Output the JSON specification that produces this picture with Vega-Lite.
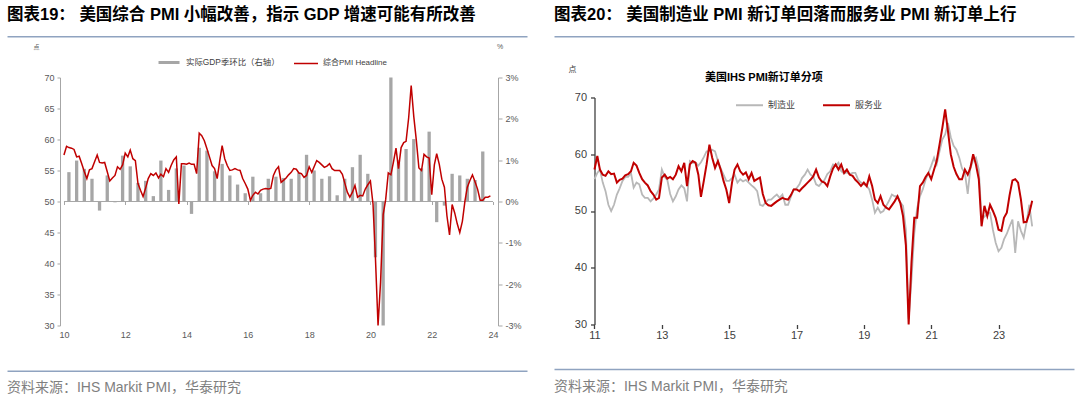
{
  "$schema": "https://vega.github.io/schema/vega-lite/v6.json",
  "background": "white",
  "padding": {"left": 7, "top": 7.2, "right": 5, "bottom": 0},
  "spacing": 27,
  "resolve": {"scale": {"color": "independent", "fill": "independent", "stroke": "independent"}, "legend": {"color": "independent", "fill": "independent", "stroke": "independent"}},
  "config": {
    "view": {"stroke": null},
    "font": "Liberation Sans, Noto Sans CJK SC",
    "axis": {"grid": false, "labelFont": "Liberation Sans, Noto Sans CJK SC", "titleFont": "Liberation Sans, Noto Sans CJK SC"},
    "legend": {"labelFont": "Liberation Sans, Noto Sans CJK SC", "titleFont": "Liberation Sans, Noto Sans CJK SC"},
    "title": {"font": "Liberation Sans, Noto Sans CJK SC"}
  },
  "datasets": {
    "pmi": [
      {"d":"2010-01","v":57.5},{"d":"2010-02","v":58.9},{"d":"2010-03","v":58.7},{"d":"2010-04","v":58.6},{"d":"2010-05","v":58.4},{"d":"2010-06","v":57.2},{"d":"2010-07","v":57.3},{"d":"2010-08","v":56.1},{"d":"2010-09","v":54.8},{"d":"2010-10","v":53.7},{"d":"2010-11","v":55.1},{"d":"2010-12","v":55.3},
      {"d":"2011-01","v":56.4},{"d":"2011-02","v":57.5},{"d":"2011-03","v":56.3},{"d":"2011-04","v":56.2},{"d":"2011-05","v":56.3},{"d":"2011-06","v":54.8},{"d":"2011-07","v":53.3},{"d":"2011-08","v":53.8},{"d":"2011-09","v":54.2},{"d":"2011-10","v":55.6},{"d":"2011-11","v":55.2},{"d":"2011-12","v":55.9},
      {"d":"2012-01","v":57.8},{"d":"2012-02","v":57.2},{"d":"2012-03","v":58.3},{"d":"2012-04","v":56.9},{"d":"2012-05","v":56.6},{"d":"2012-06","v":52.9},{"d":"2012-07","v":51.8},{"d":"2012-08","v":50.8},{"d":"2012-09","v":52.2},{"d":"2012-10","v":53.7},{"d":"2012-11","v":54.5},{"d":"2012-12","v":54.2},
      {"d":"2013-01","v":54.6},{"d":"2013-02","v":53.8},{"d":"2013-03","v":54.4},{"d":"2013-04","v":54.0},{"d":"2013-05","v":55.3},{"d":"2013-06","v":54.7},{"d":"2013-07","v":55.8},{"d":"2013-08","v":56.7},{"d":"2013-09","v":57.2},{"d":"2013-10","v":49.6},{"d":"2013-11","v":56.1},{"d":"2013-12","v":56.1},
      {"d":"2014-01","v":56.0},{"d":"2014-02","v":56.2},{"d":"2014-03","v":56.0},{"d":"2014-04","v":56.0},{"d":"2014-05","v":54.5},{"d":"2014-06","v":61.0},{"d":"2014-07","v":60.6},{"d":"2014-08","v":59.8},{"d":"2014-09","v":58.5},{"d":"2014-10","v":57.2},{"d":"2014-11","v":55.8},{"d":"2014-12","v":55.3},
      {"d":"2015-01","v":53.7},{"d":"2015-02","v":56.6},{"d":"2015-03","v":59.0},{"d":"2015-04","v":56.9},{"d":"2015-05","v":55.8},{"d":"2015-06","v":55.0},{"d":"2015-07","v":55.1},{"d":"2015-08","v":55.3},{"d":"2015-09","v":55.1},{"d":"2015-10","v":55.0},{"d":"2015-11","v":53.7},{"d":"2015-12","v":52.9},
      {"d":"2016-01","v":52.0},{"d":"2016-02","v":50.2},{"d":"2016-03","v":51.0},{"d":"2016-04","v":51.5},{"d":"2016-05","v":51.2},{"d":"2016-06","v":51.8},{"d":"2016-07","v":52.0},{"d":"2016-08","v":52.1},{"d":"2016-09","v":52.0},{"d":"2016-10","v":52.1},{"d":"2016-11","v":54.2},{"d":"2016-12","v":55.1},
      {"d":"2017-01","v":55.6},{"d":"2017-02","v":53.1},{"d":"2017-03","v":53.4},{"d":"2017-04","v":53.8},{"d":"2017-05","v":54.3},{"d":"2017-06","v":54.7},{"d":"2017-07","v":55.3},{"d":"2017-08","v":55.2},{"d":"2017-09","v":54.6},{"d":"2017-10","v":54.5},{"d":"2017-11","v":53.9},{"d":"2017-12","v":54.2},
      {"d":"2018-01","v":55.6},{"d":"2018-02","v":54.7},{"d":"2018-03","v":55.6},{"d":"2018-04","v":56.6},{"d":"2018-05","v":56.3},{"d":"2018-06","v":55.9},{"d":"2018-07","v":55.5},{"d":"2018-08","v":55.7},{"d":"2018-09","v":56.1},{"d":"2018-10","v":55.3},{"d":"2018-11","v":55.0},{"d":"2018-12","v":55.0},
      {"d":"2019-01","v":55.0},{"d":"2019-02","v":54.4},{"d":"2019-03","v":53.0},{"d":"2019-04","v":51.5},{"d":"2019-05","v":50.7},{"d":"2019-06","v":51.5},{"d":"2019-07","v":52.6},{"d":"2019-08","v":50.7},{"d":"2019-09","v":51.0},{"d":"2019-10","v":50.9},{"d":"2019-11","v":52.0},{"d":"2019-12","v":52.7},
      {"d":"2020-01","v":53.3},{"d":"2020-02","v":49.6},{"d":"2020-03","v":40.9},{"d":"2020-04","v":30.0},{"d":"2020-05","v":37.0},{"d":"2020-06","v":47.9},{"d":"2020-07","v":50.3},{"d":"2020-08","v":54.6},{"d":"2020-09","v":54.3},{"d":"2020-10","v":56.3},{"d":"2020-11","v":58.6},{"d":"2020-12","v":55.3},
      {"d":"2021-01","v":58.7},{"d":"2021-02","v":59.5},{"d":"2021-03","v":59.7},{"d":"2021-04","v":63.5},{"d":"2021-05","v":68.7},{"d":"2021-06","v":63.7},{"d":"2021-07","v":59.9},{"d":"2021-08","v":55.4},{"d":"2021-09","v":55.0},{"d":"2021-10","v":57.6},{"d":"2021-11","v":57.2},{"d":"2021-12","v":57.0},
      {"d":"2022-01","v":51.1},{"d":"2022-02","v":55.9},{"d":"2022-03","v":57.7},{"d":"2022-04","v":56.0},{"d":"2022-05","v":53.6},{"d":"2022-06","v":52.3},{"d":"2022-07","v":47.7},{"d":"2022-08","v":44.6},{"d":"2022-09","v":49.5},{"d":"2022-10","v":48.2},{"d":"2022-11","v":46.4},{"d":"2022-12","v":45.0},
      {"d":"2023-01","v":46.8},{"d":"2023-02","v":50.1},{"d":"2023-03","v":52.3},{"d":"2023-04","v":53.4},{"d":"2023-05","v":54.3},{"d":"2023-06","v":53.2},{"d":"2023-07","v":52.0},{"d":"2023-08","v":50.2},{"d":"2023-09","v":50.2},{"d":"2023-10","v":50.7},{"d":"2023-11","v":50.7},{"d":"2023-12","v":50.9}
    ],
    "gdp": [
      {"d":"2010-03","v":0.71},{"d":"2010-06","v":0.99},{"d":"2010-09","v":0.79},{"d":"2010-12","v":0.55},
      {"d":"2011-03","v":-0.22},{"d":"2011-06","v":0.63},{"d":"2011-09","v":-0.02},{"d":"2011-12","v":1.11},
      {"d":"2012-03","v":0.85},{"d":"2012-06","v":0.45},{"d":"2012-09","v":0.50},{"d":"2012-12","v":0.13},
      {"d":"2013-03","v":0.99},{"d":"2013-06","v":0.28},{"d":"2013-09","v":0.80},{"d":"2013-12","v":0.87},
      {"d":"2014-03","v":-0.30},{"d":"2014-06","v":1.30},{"d":"2014-09","v":1.23},{"d":"2014-12","v":0.73},
      {"d":"2015-03","v":0.91},{"d":"2015-06","v":0.63},{"d":"2015-09","v":0.41},{"d":"2015-12","v":0.20},
      {"d":"2016-03","v":0.60},{"d":"2016-06","v":0.20},{"d":"2016-09","v":0.55},{"d":"2016-12","v":0.60},
      {"d":"2017-03","v":0.57},{"d":"2017-06","v":0.55},{"d":"2017-09","v":0.70},{"d":"2017-12","v":1.13},
      {"d":"2018-03","v":0.75},{"d":"2018-06","v":0.55},{"d":"2018-09","v":0.61},{"d":"2018-12","v":0.15},
      {"d":"2019-03","v":0.55},{"d":"2019-06","v":0.83},{"d":"2019-09","v":1.13},{"d":"2019-12","v":0.67},
      {"d":"2020-03","v":-1.35},{"d":"2020-06","v":-3.0},{"d":"2020-09","v":3.0},{"d":"2020-12","v":1.0},
      {"d":"2021-03","v":1.27},{"d":"2021-06","v":1.51},{"d":"2021-09","v":0.80},{"d":"2021-12","v":1.69},
      {"d":"2022-03","v":-0.50},{"d":"2022-06","v":-0.10},{"d":"2022-09","v":0.67},{"d":"2022-12","v":0.63},
      {"d":"2023-03","v":0.55},{"d":"2023-06","v":0.52},{"d":"2023-09","v":1.21}
    ],
    "no": [
      {"d":"2011-01","m":55.6,"s":57.3},{"d":"2011-02","m":56.7,"s":59.7},{"d":"2011-03","m":57.3,"s":57.3},{"d":"2011-04","m":55.0,"s":56.4},{"d":"2011-05","m":53.5,"s":56.2},{"d":"2011-06","m":51.1,"s":57.0},{"d":"2011-07","m":50.0,"s":56.5},{"d":"2011-08","m":51.1,"s":56.6},{"d":"2011-09","m":52.9,"s":55.0},{"d":"2011-10","m":54.0,"s":55.5},{"d":"2011-11","m":55.3,"s":55.7},{"d":"2011-12","m":56.0,"s":56.3},
      {"d":"2012-01","m":56.0,"s":56.5},{"d":"2012-02","m":56.7,"s":57.0},{"d":"2012-03","m":54.1,"s":58.5},{"d":"2012-04","m":55.0,"s":58.0},{"d":"2012-05","m":54.7,"s":56.7},{"d":"2012-06","m":52.9,"s":55.6},{"d":"2012-07","m":52.3,"s":55.0},{"d":"2012-08","m":52.3,"s":54.5},{"d":"2012-09","m":51.7,"s":53.5},{"d":"2012-10","m":52.2,"s":52.9},{"d":"2012-11","m":52.9,"s":52.0},{"d":"2012-12","m":53.8,"s":52.3},
      {"d":"2013-01","m":57.3,"s":55.9},{"d":"2013-02","m":56.0,"s":56.4},{"d":"2013-03","m":55.5,"s":55.7},{"d":"2013-04","m":53.0,"s":56.0},{"d":"2013-05","m":51.7,"s":55.6},{"d":"2013-06","m":52.6,"s":56.4},{"d":"2013-07","m":53.8,"s":57.9},{"d":"2013-08","m":54.5,"s":57.0},{"d":"2013-09","m":54.0,"s":58.5},{"d":"2013-10","m":51.7,"s":54.4},{"d":"2013-11","m":58.8,"s":58.2},{"d":"2013-12","m":58.5,"s":58.8},
      {"d":"2014-01","m":58.5,"s":58.5},{"d":"2014-02","m":58.0,"s":56.4},{"d":"2014-03","m":58.6,"s":52.5},{"d":"2014-04","m":59.5,"s":55.3},{"d":"2014-05","m":60.5,"s":58.2},{"d":"2014-06","m":60.5,"s":61.7},{"d":"2014-07","m":60.8,"s":59.4},{"d":"2014-08","m":60.5,"s":57.6},{"d":"2014-09","m":58.8,"s":58.8},{"d":"2014-10","m":57.5,"s":57.3},{"d":"2014-11","m":56.4,"s":55.3},{"d":"2014-12","m":55.3,"s":53.8},
      {"d":"2015-01","m":55.3,"s":51.4},{"d":"2015-02","m":55.8,"s":55.0},{"d":"2015-03","m":56.4,"s":57.3},{"d":"2015-04","m":55.0,"s":58.2},{"d":"2015-05","m":55.6,"s":57.0},{"d":"2015-06","m":55.2,"s":56.4},{"d":"2015-07","m":55.5,"s":56.8},{"d":"2015-08","m":55.0,"s":55.6},{"d":"2015-09","m":54.5,"s":56.7},{"d":"2015-10","m":54.1,"s":55.3},{"d":"2015-11","m":53.5,"s":55.6},{"d":"2015-12","m":51.1,"s":55.9},
      {"d":"2016-01","m":50.9,"s":53.0},{"d":"2016-02","m":51.5,"s":51.4},{"d":"2016-03","m":52.0,"s":51.0},{"d":"2016-04","m":52.0,"s":50.9},{"d":"2016-05","m":52.5,"s":51.3},{"d":"2016-06","m":52.9,"s":51.7},{"d":"2016-07","m":52.3,"s":52.0},{"d":"2016-08","m":52.9,"s":52.3},{"d":"2016-09","m":51.1,"s":52.1},{"d":"2016-10","m":51.1,"s":52.0},{"d":"2016-11","m":52.5,"s":52.8},{"d":"2016-12","m":53.8,"s":53.8},
      {"d":"2017-01","m":54.0,"s":53.8},{"d":"2017-02","m":54.7,"s":53.5},{"d":"2017-03","m":55.8,"s":54.0},{"d":"2017-04","m":56.4,"s":54.5},{"d":"2017-05","m":57.3,"s":55.0},{"d":"2017-06","m":56.4,"s":55.5},{"d":"2017-07","m":56.1,"s":56.1},{"d":"2017-08","m":54.7,"s":57.3},{"d":"2017-09","m":54.4,"s":55.9},{"d":"2017-10","m":55.0,"s":55.2},{"d":"2017-11","m":55.5,"s":55.0},{"d":"2017-12","m":56.5,"s":54.4},
      {"d":"2018-01","m":57.0,"s":56.1},{"d":"2018-02","m":58.2,"s":57.5},{"d":"2018-03","m":58.0,"s":58.2},{"d":"2018-04","m":58.5,"s":57.3},{"d":"2018-05","m":57.0,"s":58.2},{"d":"2018-06","m":56.6,"s":56.7},{"d":"2018-07","m":56.8,"s":57.3},{"d":"2018-08","m":56.5,"s":56.4},{"d":"2018-09","m":56.7,"s":56.2},{"d":"2018-10","m":56.7,"s":55.5},{"d":"2018-11","m":55.5,"s":55.0},{"d":"2018-12","m":55.0,"s":54.4},
      {"d":"2019-01","m":54.7,"s":55.0},{"d":"2019-02","m":54.4,"s":54.4},{"d":"2019-03","m":53.8,"s":56.1},{"d":"2019-04","m":52.0,"s":54.4},{"d":"2019-05","m":49.7,"s":52.0},{"d":"2019-06","m":50.6,"s":51.4},{"d":"2019-07","m":49.7,"s":52.6},{"d":"2019-08","m":50.0,"s":51.1},{"d":"2019-09","m":50.9,"s":50.6},{"d":"2019-10","m":51.8,"s":50.3},{"d":"2019-11","m":52.9,"s":51.0},{"d":"2019-12","m":52.6,"s":51.7},
      {"d":"2020-01","m":52.6,"s":52.6},{"d":"2020-02","m":51.5,"s":51.4},{"d":"2020-03","m":50.9,"s":49.1},{"d":"2020-04","m":46.7,"s":44.0},{"d":"2020-05","m":31.0,"s":30.0},{"d":"2020-06","m":38.0,"s":41.0},{"d":"2020-07","m":46.0,"s":48.8},{"d":"2020-08","m":50.5,"s":48.8},{"d":"2020-09","m":52.6,"s":54.4},{"d":"2020-10","m":53.8,"s":55.0},{"d":"2020-11","m":55.5,"s":56.0},{"d":"2020-12","m":56.7,"s":56.7},
      {"d":"2021-01","m":58.0,"s":55.6},{"d":"2021-02","m":59.4,"s":57.3},{"d":"2021-03","m":58.2,"s":58.8},{"d":"2021-04","m":60.5,"s":61.7},{"d":"2021-05","m":62.6,"s":64.6},{"d":"2021-06","m":63.5,"s":67.9},{"d":"2021-07","m":65.5,"s":64.1},{"d":"2021-08","m":63.0,"s":60.0},{"d":"2021-09","m":61.5,"s":57.8},{"d":"2021-10","m":60.8,"s":56.5},{"d":"2021-11","m":59.4,"s":55.6},{"d":"2021-12","m":57.5,"s":55.6},
      {"d":"2022-01","m":56.7,"s":57.3},{"d":"2022-02","m":53.0,"s":56.4},{"d":"2022-03","m":57.5,"s":57.6},{"d":"2022-04","m":59.0,"s":60.0},{"d":"2022-05","m":59.4,"s":58.2},{"d":"2022-06","m":57.3,"s":55.6},{"d":"2022-07","m":48.5,"s":47.3},{"d":"2022-08","m":49.0,"s":50.9},{"d":"2022-09","m":49.5,"s":49.1},{"d":"2022-10","m":49.7,"s":51.1},{"d":"2022-11","m":46.7,"s":50.0},{"d":"2022-12","m":44.4,"s":48.8},
      {"d":"2023-01","m":42.9,"s":46.7},{"d":"2023-02","m":43.5,"s":46.5},{"d":"2023-03","m":45.0,"s":48.8},{"d":"2023-04","m":46.0,"s":49.7},{"d":"2023-05","m":47.3,"s":52.8},{"d":"2023-06","m":48.5,"s":55.4},{"d":"2023-07","m":42.6,"s":55.6},{"d":"2023-08","m":48.2,"s":55.0},{"d":"2023-09","m":46.5,"s":52.0},{"d":"2023-10","m":45.3,"s":48.0},{"d":"2023-11","m":48.0,"s":48.1},{"d":"2023-12","m":51.1,"s":49.6},
      {"d":"2024-01","m":47.3,"s":51.8}
    ]
  },
  "hconcat": [
    {
      "spacing": 30.5,
      "resolve": {"scale": {"color": "independent", "fill": "independent", "stroke": "independent"}, "legend": {"color": "independent", "fill": "independent", "stroke": "independent"}},
      "vconcat": [
        {
          "spacing": 6.3,
          "resolve": {"scale": {"color": "independent", "fill": "independent", "stroke": "independent"}, "legend": {"color": "independent", "fill": "independent", "stroke": "independent"}},
          "vconcat": [
            {
              "width": 520, "height": 2,
              "data": {"values": [{"t": 0}, {"t": 1}]},
              "mark": {"type": "rule", "opacity": 0},
              "encoding": {"x": {"field": "t", "type": "quantitative", "axis": {"orient": "bottom", "domainColor": "#8FA3C0", "domainWidth": 1.5, "ticks": false, "labels": false, "title": null, "grid": false}}},
              "title": {"text": "图表19： 美国综合 PMI 小幅改善，指示 GDP 增速可能有所改善", "anchor": "start", "frame": "group", "fontSize": 16.5, "fontWeight": "bold", "color": "#000000", "offset": -2.6, "baseline": "alphabetic"}
            },
            {
              "width": 491, "height": 248,
              "layer": [
                {
                  "data": {"values": [{}]},
                  "mark": {"type": "rule", "color": "#A6A6A6", "strokeWidth": 1},
                  "encoding": {
                    "x": {"datum": {"year": 2010, "month": 1, "date": 1}, "type": "temporal"},
                    "x2": {"datum": {"year": 2024, "month": 1, "date": 1}},
                    "y": {"datum": 50, "type": "quantitative", "scale": {"domain": [30, 70], "nice": false, "zero": false}, "axis": null}
                  }
                },
                {
                  "data": {"name": "gdp"},
                  "mark": {"type": "bar", "size": 3.3},
                  "encoding": {
                    "x": {"field": "d", "type": "temporal",
                      "scale": {"domain": [{"year": 2008, "month": 4, "date": 22}, {"year": 2024, "month": 1, "date": 1}]},
                      "axis": {"orient": "bottom", "offset": -124, "domain": false, "values": [{"year": 2010, "month": 1, "date": 1}, {"year": 2012, "month": 1, "date": 1}, {"year": 2014, "month": 1, "date": 1}, {"year": 2016, "month": 1, "date": 1}, {"year": 2018, "month": 1, "date": 1}, {"year": 2020, "month": 1, "date": 1}, {"year": 2022, "month": 1, "date": 1}, {"year": 2024, "month": 1, "date": 1}],
                        "format": "%y", "tickSize": 3, "tickColor": "#A6A6A6", "labelPadding": 126, "labelFontSize": 9, "labelColor": "#595959", "labelFlush": false, "labelOverlap": false, "title": null}},
                    "y": {"field": "v", "type": "quantitative", "scale": {"domain": [-3, 3], "nice": false},
                      "axis": {"orient": "right", "values": [-3, -2, -1, 0, 1, 2, 3], "labelExpr": "datum.value + '%'", "tickSize": 4, "labelPadding": 3, "domainColor": "#A6A6A6", "tickColor": "#A6A6A6", "labelFontSize": 9, "labelColor": "#595959", "title": "%", "titleAngle": 0, "titleX": -1.5, "titleY": -28.7, "titleAlign": "left", "titleBaseline": "alphabetic", "titleFontSize": 7, "titleFontWeight": "normal", "titleColor": "#595959"}},
                    "fill": {"datum": "实际GDP季环比（右轴）", "type": "nominal", "scale": {"range": ["#A6A6A6"]},
                      "legend": {"orient": "none", "legendX": 150, "legendY": -27, "title": null, "symbolType": "stroke", "symbolSize": 441, "symbolStrokeWidth": 3, "symbolStrokeColor": "#A6A6A6", "labelFontSize": 8.4, "labelColor": "#404040", "labelOffset": 5, "padding": 0}}
                  }
                },
                {
                  "data": {"name": "pmi"},
                  "mark": {"type": "line", "strokeWidth": 1.5},
                  "encoding": {
                    "x": {"field": "d", "type": "temporal"},
                    "y": {"field": "v", "type": "quantitative", "scale": {"domain": [30, 70], "nice": false, "zero": false},
                      "axis": {"orient": "left", "offset": -53, "values": [30, 35, 40, 45, 50, 55, 60, 65, 70], "tickSize": 3, "labelPadding": 3, "domainColor": "#A6A6A6", "tickColor": "#A6A6A6", "labelFontSize": 9, "labelColor": "#595959", "title": "点", "titleAngle": 0, "titleX": -27, "titleY": -28.7, "titleAlign": "left", "titleBaseline": "alphabetic", "titleFontSize": 6, "titleFontWeight": "normal", "titleColor": "#595959"}},
                    "stroke": {"datum": "综合PMI Headline", "type": "nominal", "scale": {"range": ["#C00000"]},
                      "legend": {"orient": "none", "legendX": 286, "legendY": -27, "title": null, "symbolType": "stroke", "symbolSize": 576, "symbolStrokeWidth": 1.5, "labelFontSize": 8, "labelColor": "#404040", "labelOffset": 4, "padding": 0}}
                  }
                }
              ],
              "resolve": {"scale": {"y": "independent"}}
            }
          ]
        },
        {
          "width": 520, "height": 2,
          "data": {"values": [{"t": 0}, {"t": 1}]},
          "mark": {"type": "rule", "opacity": 0},
          "encoding": {"x": {"field": "t", "type": "quantitative", "axis": {"orient": "top", "domainColor": "#8FA3C0", "domainWidth": 1.5, "ticks": false, "labels": false, "title": null, "grid": false}}},
          "title": {"text": "资料来源：IHS Markit PMI，华泰研究", "orient": "bottom", "anchor": "start", "frame": "group", "fontSize": 14, "fontWeight": "normal", "color": "#7F7F7F", "offset": 8.6, "baseline": "top"}
        }
      ]
    },
    {
      "spacing": 28.9,
      "resolve": {"scale": {"color": "independent", "fill": "independent", "stroke": "independent"}, "legend": {"color": "independent", "fill": "independent", "stroke": "independent"}},
      "vconcat": [
        {
          "spacing": 29.3,
          "resolve": {"scale": {"color": "independent", "fill": "independent", "stroke": "independent"}, "legend": {"color": "independent", "fill": "independent", "stroke": "independent"}},
          "vconcat": [
            {
              "width": 520, "height": 2,
              "data": {"values": [{"t": 0}, {"t": 1}]},
              "mark": {"type": "rule", "opacity": 0},
              "encoding": {"x": {"field": "t", "type": "quantitative", "axis": {"orient": "bottom", "domainColor": "#8FA3C0", "domainWidth": 1.5, "ticks": false, "labels": false, "title": null, "grid": false}}},
              "title": {"text": "图表20： 美国制造业 PMI 新订单回落而服务业 PMI 新订单上行", "anchor": "start", "frame": "group", "fontSize": 16.5, "fontWeight": "bold", "color": "#000000", "offset": -2.6, "baseline": "alphabetic"}
            },
            {
              "width": 480.5, "height": 227,
              "data": {"name": "no"},
              "title": {"text": "美国IHS PMI新订单分项", "anchor": "start", "frame": "group", "dx": 151, "offset": -26.5, "fontSize": 11, "fontWeight": "bold", "color": "#000000", "baseline": "alphabetic"},
              "encoding": {
                "x": {"field": "d", "type": "temporal",
                  "scale": {"domain": [{"year": 2009, "month": 10, "date": 19}, {"year": 2024, "month": 1, "date": 26}]},
                  "axis": {"domain": false, "values": [{"year": 2011, "month": 1, "date": 1}, {"year": 2013, "month": 1, "date": 1}, {"year": 2015, "month": 1, "date": 1}, {"year": 2017, "month": 1, "date": 1}, {"year": 2019, "month": 1, "date": 1}, {"year": 2021, "month": 1, "date": 1}, {"year": 2023, "month": 1, "date": 1}],
                    "format": "%y", "tickSize": 4, "tickColor": "#404040", "tickWidth": 1.3, "labelPadding": 0.6, "labelFontSize": 11, "labelColor": "#404040", "labelFlush": false, "labelOverlap": false, "title": null}}
              },
              "layer": [
                {
                  "data": {"values": [{}]},
                  "mark": {"type": "rule", "color": "#404040", "strokeWidth": 1.3},
                  "encoding": {
                    "x": {"datum": {"year": 2011, "month": 1, "date": 1}, "type": "temporal"},
                    "x2": {"datum": {"year": 2024, "month": 1, "date": 26}},
                    "y": {"datum": 30, "type": "quantitative"}
                  }
                },
                {
                  "mark": {"type": "line", "strokeWidth": 1.8},
                  "encoding": {
                    "y": {"field": "m", "type": "quantitative", "scale": {"domain": [30, 70], "nice": false, "zero": false},
                      "axis": {"orient": "left", "offset": -40.5, "values": [30, 40, 50, 60, 70], "tickSize": 4, "tickWidth": 1.3, "labelPadding": 4, "domainColor": "#404040", "domainWidth": 1.3, "tickColor": "#404040", "labelFontSize": 11, "labelColor": "#404040", "title": "点", "titleAngle": 0, "titleX": -26.5, "titleY": -26, "titleAlign": "left", "titleBaseline": "alphabetic", "titleFontSize": 8, "titleFontWeight": "normal", "titleColor": "#404040"}},
                    "color": {"datum": "制造业", "type": "nominal", "scale": {"domain": ["制造业", "服务业"], "range": ["#B8B8B8", "#C00000"]},
                      "legend": {"orient": "none", "legendX": 181, "legendY": -7, "direction": "horizontal", "title": null, "symbolType": "stroke", "symbolSize": 729, "symbolStrokeWidth": 2, "labelFontSize": 9, "labelColor": "#404040", "columnPadding": 23, "labelOffset": 4, "padding": 0}}
                  }
                },
                {
                  "mark": {"type": "line", "strokeWidth": 2},
                  "encoding": {
                    "y": {"field": "s", "type": "quantitative", "scale": {"domain": [30, 70], "nice": false, "zero": false}, "axis": {"title": "点"}},
                    "color": {"datum": "服务业", "type": "nominal"}
                  }
                }
              ]
            }
          ]
        },
        {
          "width": 520, "height": 2,
          "data": {"values": [{"t": 0}, {"t": 1}]},
          "mark": {"type": "rule", "opacity": 0},
          "encoding": {"x": {"field": "t", "type": "quantitative", "axis": {"orient": "top", "domainColor": "#8FA3C0", "domainWidth": 1.5, "ticks": false, "labels": false, "title": null, "grid": false}}},
          "title": {"text": "资料来源：IHS Markit PMI，华泰研究", "orient": "bottom", "anchor": "start", "frame": "group", "fontSize": 14, "fontWeight": "normal", "color": "#7F7F7F", "offset": 8.6, "baseline": "top"}
        }
      ]
    }
  ]
}
